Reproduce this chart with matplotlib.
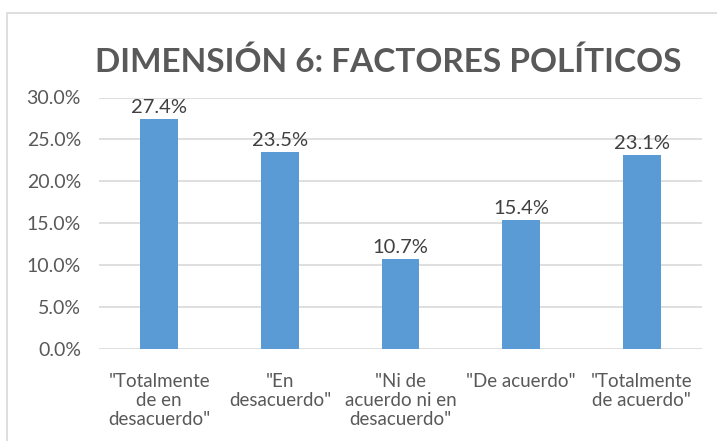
import matplotlib
matplotlib.use("Agg")
import matplotlib.pyplot as plt
from matplotlib.patches import Rectangle
from matplotlib.ticker import FuncFormatter

# ── Datos ──────────────────────────────────────────────────────────────────
categorias = ['"Totalmente\nde en\ndesacuerdo"',
              '"En\ndesacuerdo"',
              '"Ni de\nacuerdo ni en\ndesacuerdo"',
              '"De acuerdo"',
              '"Totalmente\nde acuerdo"']
valores = [27.4, 23.5, 10.7, 15.4, 23.1]
titulo = "DIMENSIÓN 6: FACTORES POLÍTICOS"

BAR_COLOR = "#5B9BD5"
TEXT_COLOR = "#595959"
LABEL_COLOR = "#404040"
GRID_COLOR = "#D9D9D9"

plt.rcParams["font.family"] = ["Lato", "DejaVu Sans"]

W, H = 717, 441
fig = plt.figure(figsize=(W / 100, H / 100), dpi=100)

# marco del gráfico (recortado a la derecha y abajo)
fig.patches.append(Rectangle((7 / W, 0 - 0.01), 1.0, 1 - 13 / H + 0.01,
                             transform=fig.transFigure, fill=False,
                             edgecolor=GRID_COLOR, linewidth=1.2))

ax = fig.add_axes([99 / W, 1 - 349 / H, (702 - 99) / W, (349 - 97.5) / H])

x = range(len(valores))
bars = ax.bar(x, valores, width=0.315, color=BAR_COLOR, zorder=3)

for b, v in zip(bars, valores):
    ax.text(b.get_x() + b.get_width() / 2, v + 0.4, f"{v:.1f}%",
            ha="center", va="bottom", fontsize=14.5, color=LABEL_COLOR, zorder=4)

ax.set_xlim(-0.5, len(valores) - 0.5)
ax.set_ylim(0, 30)
ax.set_yticks([0, 5, 10, 15, 20, 25, 30])
ax.yaxis.set_major_formatter(FuncFormatter(lambda v, p: f"{v:.1f}%"))
ax.set_xticks(list(x))
ax.set_xticklabels(categorias, fontsize=13.5, color=TEXT_COLOR, linespacing=1.15)
ax.tick_params(axis="y", labelsize=14, colors=TEXT_COLOR, length=0, pad=13)
ax.tick_params(axis="x", length=0, pad=17)

ax.grid(axis="y", color=GRID_COLOR, linewidth=1.2, zorder=0)
for s in ax.spines.values():
    s.set_visible(False)

fig.text(388 / W, 1 - 62 / H, titulo, ha="center", va="center",
         fontsize=24, fontweight="bold", color=TEXT_COLOR)

fig.savefig("out.png", dpi=100)
